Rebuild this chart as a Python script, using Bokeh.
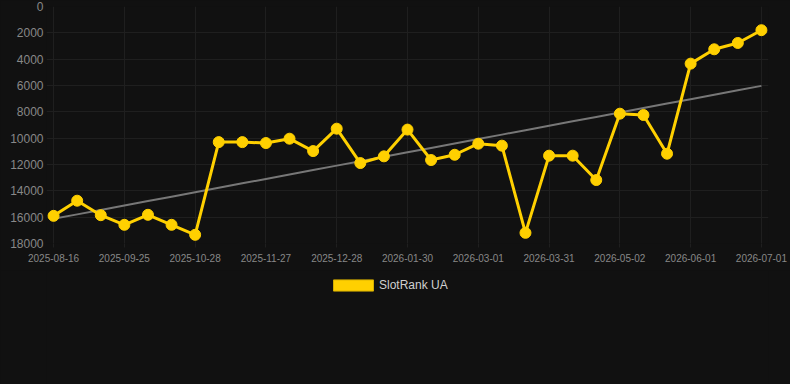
import numpy as np
from bokeh.plotting import figure
from bokeh.layouts import column
from bokeh.models import Range1d, FixedTicker, Legend, LegendItem, ColumnDataSource
from bokeh.embed import file_html
from bokeh.resources import INLINE

series_name = "SlotRank UA"
tick_labels = ["2025-08-16", "2025-09-25", "2025-10-28", "2025-11-27", "2025-12-28",
               "2026-01-30", "2026-03-01", "2026-03-31", "2026-05-02", "2026-06-01", "2026-07-01"]
ranks = [15900, 14750, 15850, 16580, 15820, 16580, 17340, 10300, 10300, 10370,
         10040, 10980, 9280, 11890, 11380, 9350, 11660, 11260, 10420, 10570,
         17190, 11330, 11330, 13180, 8140, 8240, 11180, 4340, 3250, 2770, 1800]
y_ticks = [0, 2000, 4000, 6000, 8000, 10000, 12000, 14000, 16000, 18000]

BG = "#111111"
YELLOW = "#FFD000"
GRID = "#1f1f1f"

idx = list(range(len(ranks)))
tick_pos = idx[::3]

# linear trend of the series
coef = np.polyfit(idx, ranks, 1)
trend = [coef[0] * i + coef[1] for i in idx]

PAD = 0.3
MAIN_H = 270
p = figure(width=790, height=MAIN_H, output_backend="svg", toolbar_location=None,
           x_range=Range1d(-PAD, len(ranks) - 1 + PAD), y_range=Range1d(18000, 0),
           background_fill_color=BG, border_fill_color=BG, outline_line_color=None,
           min_border_left=46, min_border_right=22, min_border_top=6,
           min_border_bottom=MAIN_H - 243, styles={"background-color": BG})

src = ColumnDataSource(dict(x=idx, y=ranks, t=trend))
p.line("x", "t", source=src, line_color="#777777", line_width=2)
p.line("x", "y", source=src, line_color=YELLOW, line_width=3)
p.scatter("x", "y", source=src, size=11, fill_color=YELLOW, line_color=YELLOW)

p.xaxis.ticker = FixedTicker(ticks=tick_pos)
p.xaxis.major_label_overrides = {i: lab for i, lab in zip(tick_pos, tick_labels)}
p.yaxis.ticker = FixedTicker(ticks=y_ticks)
p.xgrid.ticker = FixedTicker(ticks=tick_pos)

for ax in (p.xaxis, p.yaxis):
    ax.axis_line_color = None
    ax.major_tick_line_color = GRID
    ax.minor_tick_line_color = None
    ax.major_tick_in = 0
    ax.major_label_text_color = "#888888"
    ax.major_label_text_font = "Liberation Sans"
p.xaxis.major_tick_out = 4
p.yaxis.major_tick_out = 0
p.xaxis.major_label_text_font_size = "10px"
p.yaxis.major_label_text_font_size = "12px"
p.yaxis.major_label_standoff = 3
p.xaxis.major_label_standoff = 6

p.xgrid.grid_line_color = GRID
p.ygrid.grid_line_color = GRID

# legend strip below the chart
LEG_H = 384 - MAIN_H
lg = figure(width=790, height=LEG_H, output_backend="svg", toolbar_location=None,
            x_range=Range1d(0, 1), y_range=Range1d(0, 1),
            background_fill_color=BG, border_fill_color=BG, outline_line_color=None,
            min_border=0, styles={"background-color": BG})
lg.axis.visible = False
lg.grid.visible = False
swatch = lg.rect(x=[5], y=[5], width=1, height=1, fill_color=YELLOW, line_color="#d4ad00")

legend = Legend(items=[LegendItem(label=series_name, renderers=[swatch])],
                location=(282, LEG_H - 22), padding=0, margin=0, spacing=0,
                glyph_width=50, glyph_height=14, label_height=14,
                label_standoff=1,
                label_text_font="Liberation Sans", label_text_font_size="12px",
                label_text_color="#d0d0d0",
                background_fill_alpha=0, border_line_alpha=0)
lg.add_layout(legend, "center")

layout = column(p, lg, spacing=0, styles={"background-color": BG})
open("out.html", "w").write(file_html(layout, INLINE))
